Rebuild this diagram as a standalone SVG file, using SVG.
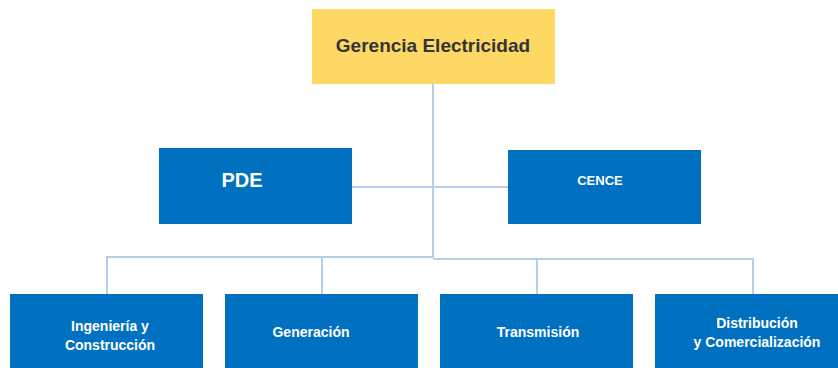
<svg xmlns="http://www.w3.org/2000/svg" width="838" height="368" viewBox="0 0 838 368">
<style>
.box{fill:#0070C0;}
.top{fill:#FDD865;}
.t{font-family:"Liberation Sans",Arial,sans-serif;font-weight:bold;fill:#fff;text-anchor:middle;}
.s{font-size:14px;}
.line{stroke:#B4CDEA;stroke-width:2;fill:none;}
</style>
<rect width="838" height="368" fill="#fff"/>
<g id="connectors">
<path class="line" d="M433,84 V258"/>
<path class="line" d="M352,187 H508"/>
<path class="line" d="M107,294 V257 H433 M322,294 V258 M433,259 H753 V294 M537,294 V259"/>
</g>
<g id="gerencia">
<rect class="top" x="312" y="9" width="243" height="75"/>
<text class="t" x="433" y="52" font-size="19" style="fill:#333">Gerencia Electricidad</text>
</g>
<g id="pde">
<rect class="box" x="159" y="148" width="193" height="76"/>
<text class="t" x="242" y="187" font-size="20">PDE</text>
</g>
<g id="cence">
<rect class="box" x="508" y="150" width="193" height="74"/>
<text class="t" x="600" y="185" font-size="13">CENCE</text>
</g>
<g id="ingenieria">
<rect class="box" x="10" y="294" width="193" height="80"/>
<text class="t s" x="110" y="331">Ingeniería y</text>
<text class="t s" x="110" y="350">Construcción</text>
</g>
<g id="generacion">
<rect class="box" x="225" y="294" width="193" height="80"/>
<text class="t s" x="311" y="337">Generación</text>
</g>
<g id="transmision">
<rect class="box" x="440" y="294" width="193" height="80"/>
<text class="t s" x="538" y="337">Transmisión</text>
</g>
<g id="distribucion">
<rect class="box" x="655" y="294" width="193" height="80"/>
<text class="t s" x="757" y="328">Distribución</text>
<text class="t s" x="757" y="347">y Comercialización</text>
</g>
</svg>
